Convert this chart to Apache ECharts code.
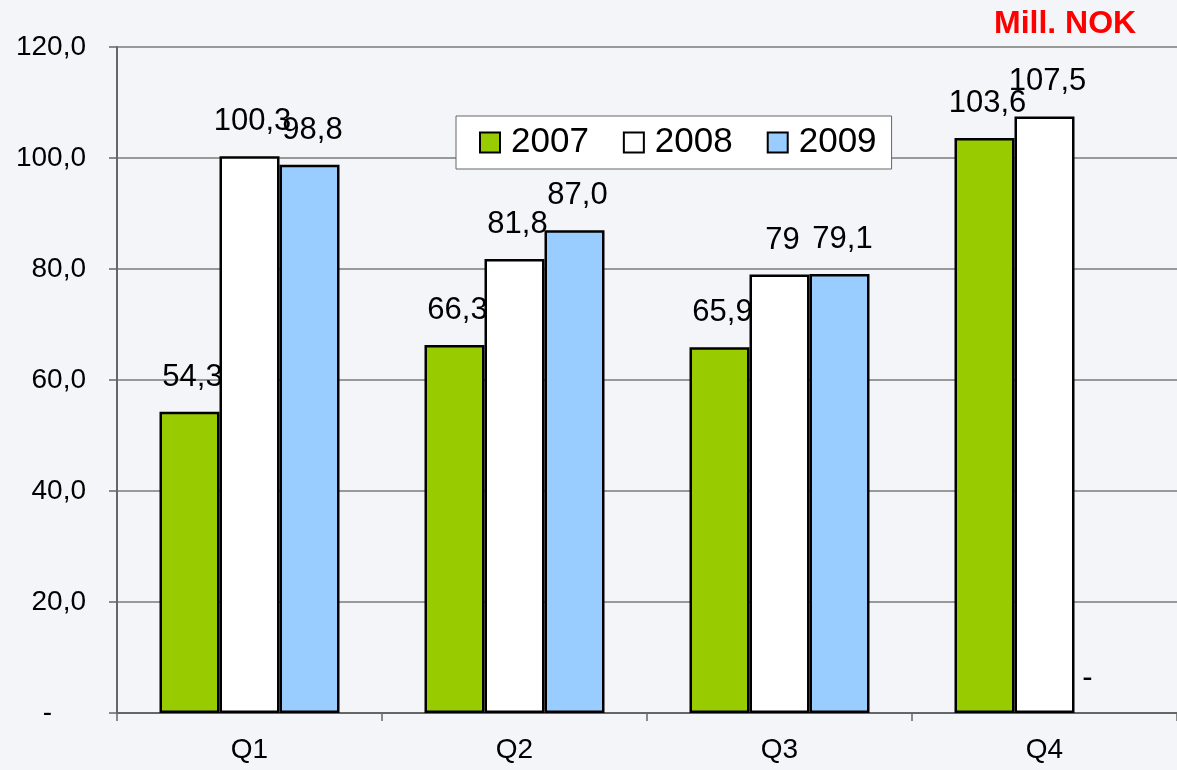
<!DOCTYPE html>
<html>
<head>
<meta charset="utf-8">
<script src="https://cdn.jsdelivr.net/npm/echarts@6/dist/echarts.min.js"></script>
<style>html,body{margin:0;padding:0;background:#f4f5f8;}#c{width:1177px;height:770px;}</style>
</head>
<body>
<div id="c"></div>
<script>
var categories = ['Q1', 'Q2', 'Q3', 'Q4'];
var seriesNames = ['2007', '2008', '2009'];
var values2007 = [54.3, 66.3, 65.9, 103.6];
var values2008 = [100.3, 81.8, 79, 107.5];
var values2009 = [98.8, 87.0, 79.1, 0];
var labels2007 = ['54,3', '66,3', '65,9', '103,6'];
var labels2008 = ['100,3', '81,8', '79', '107,5'];
var labels2009 = ['98,8', '87,0', '79,1', '-'];
var colors = ['#99cc00', '#ffffff', '#99ccff'];
var FONT = "'Liberation Sans', Arial, sans-serif";

function buildData(vals, labs) {
  return vals.map(function (v, i) {
    var item = { value: v, label: { formatter: labs[i] } };
    if (v === 0) {
      item.itemStyle = { borderWidth: 0 };
      item.label.offset = [-17, 0];
    }
    return item;
  });
}

function mkSeries(name, vals, labs, color) {
  return {
    name: name,
    type: 'bar',
    barWidth: 60,
    barGap: '0%',
    barCategoryGap: '32.5%',
    itemStyle: { color: color, borderColor: '#000', borderWidth: 2.5 },
    label: {
      show: true, position: 'top', distance: 19, offset: [3, 0],
      color: '#000', fontSize: 31, fontFamily: FONT
    },
    data: buildData(vals, labs)
  };
}

var chart = echarts.init(document.getElementById('c'), null, { renderer: 'canvas' });
chart.setOption({
  backgroundColor: '#f4f5f8',
  animation: false,
  title: {
    text: 'Mill. NOK', left: 989, top: 3,
    textStyle: { color: '#ff0000', fontSize: 32, fontWeight: 'bold', fontFamily: FONT }
  },
  legend: {
    left: 456, top: 116,
    padding: [9, 15, 9, 23],
    backgroundColor: '#ffffff',
    borderColor: '#666666', borderWidth: 1,
    itemWidth: 20, itemHeight: 20, itemGap: 34,
    icon: 'rect',
    textStyle: { fontSize: 35, color: '#000', fontFamily: FONT, padding: [0, 0, 0, 6] },
    data: seriesNames
  },
  grid: { left: 117, top: 47, width: 1066, height: 666, containLabel: false },
  xAxis: {
    type: 'category', data: categories,
    axisLine: { lineStyle: { color: '#666666', width: 2 } },
    axisTick: { show: true, length: 8, lineStyle: { color: '#666666', width: 1.5 } },
    axisLabel: { margin: 23, fontSize: 28, color: '#000', fontFamily: FONT }
  },
  yAxis: {
    type: 'value', min: 0, max: 120, interval: 20,
    axisLine: { show: true, lineStyle: { color: '#666666', width: 2 } },
    axisTick: { show: true, length: 8, lineStyle: { color: '#666666', width: 1.5 } },
    splitLine: { show: true, lineStyle: { color: '#7a7a7a', width: 1.5 } },
    axisLabel: {
      margin: 31, fontSize: 28, color: '#000', fontFamily: FONT,
      formatter: function (v) {
        return v === 0 ? '{d|-}' : v.toFixed(1).replace('.', ',');
      },
      rich: { d: { fontSize: 28, color: '#000', fontFamily: FONT, padding: [0, 34, 0, 0] } }
    }
  },
  series: [
    mkSeries(seriesNames[0], values2007, labels2007, colors[0]),
    mkSeries(seriesNames[1], values2008, labels2008, colors[1]),
    mkSeries(seriesNames[2], values2009, labels2009, colors[2])
  ]
});
</script>
</body>
</html>
